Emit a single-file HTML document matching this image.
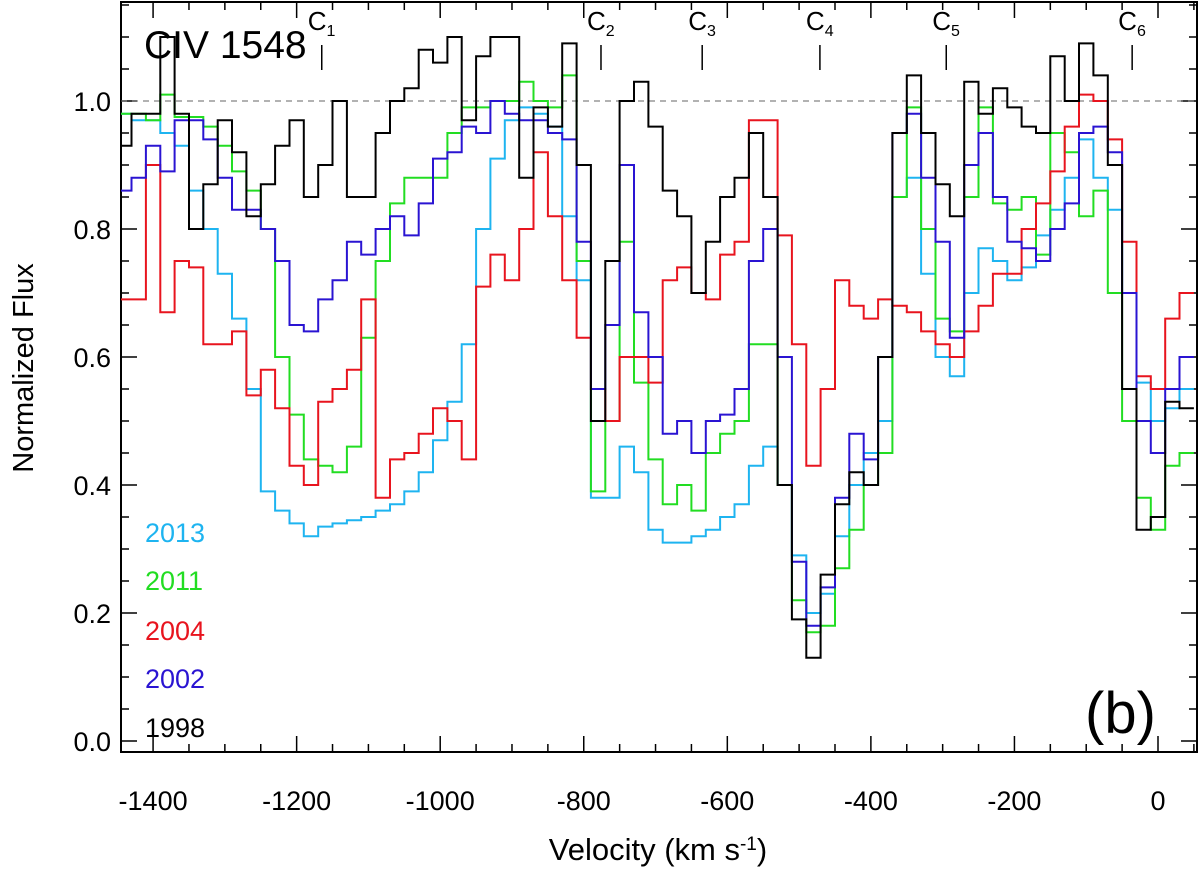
<!DOCTYPE html>
<html><head><meta charset="utf-8"><style>
html,body{margin:0;padding:0;background:#fff;}
svg{display:block;font-family:"Liberation Sans",Arial,sans-serif;}
</style></head><body>
<svg id="chart" width="1200" height="869" viewBox="0 0 1200 869" xmlns="http://www.w3.org/2000/svg">
<defs><clipPath id="pc"><rect x="121" y="2" width="1076" height="750"/></clipPath></defs>
<g id="axes"></g>
<line x1="121" x2="1197" y1="101" y2="101" stroke="#666" stroke-width="1" stroke-dasharray="6,5"/>
<g id="series" clip-path="url(#pc)"></g>
<g id="comps"></g>
<text x="144" y="58" font-size="39">CIV 1548</text>
<text x="1085" y="733" font-size="58">(b)</text>
<g font-size="27">
<text x="145" y="542" fill="#1EB4F0">2013</text>
<text x="145" y="590" fill="#22DD22">2011</text>
<text x="145" y="640" fill="#E8141E">2004</text>
<text x="145" y="688" fill="#2A14D2">2002</text>
<text x="145" y="737" fill="#000">1998</text>
</g>
<text transform="translate(33,368) rotate(-90)" text-anchor="middle" font-size="29">Normalized Flux</text>
<text x="658" y="860" text-anchor="middle" font-size="31">Velocity (km s<tspan baseline-shift="super" font-size="19">-1</tspan>)</text>
</svg>
<script>
const vStart = -1440, vStep = 20;
const flux2013 = [.98,.97,.97,.95,.93,.86,.80,.73,.66,.55,.39,.36,.34,.32,.335,.34,.345,.35,.36,.37,.39,.42,.47,.53,.62,.80,.91,.97,.99,.98,.96,.82,.72,.38,.38,.46,.42,.33,.31,.31,.32,.33,.35,.37,.43,.46,.40,.29,.20,.23,.32,.40,.45,.50,.85,.88,.73,.60,.57,.70,.77,.75,.72,.74,.79,.83,.88,.94,.88,.83,.70,.56,.50,.52,.55];
const flux2011 = [.98,.98,.97,1.01,.975,.975,.96,.93,.89,.86,.80,.60,.51,.44,.43,.42,.46,.63,.75,.84,.88,.88,.88,.95,.99,.99,1.0,1.0,1.03,1.0,.99,1.04,.75,.39,.50,.78,.56,.44,.37,.40,.36,.45,.48,.50,.62,.62,.40,.22,.17,.18,.27,.33,.40,.45,.85,.99,.80,.66,.64,.85,.99,.84,.83,.85,.76,.95,.92,.82,.86,.70,.50,.38,.33,.43,.45];
const flux2004 = [.69,.69,.90,.67,.75,.74,.62,.62,.64,.54,.58,.52,.43,.40,.53,.55,.58,.69,.38,.44,.45,.48,.52,.50,.44,.71,.76,.72,.80,.92,.82,.72,.63,.55,.50,.60,.60,.56,.72,.74,.70,.69,.76,.78,.97,.97,.79,.62,.43,.55,.72,.68,.66,.69,.68,.67,.64,.62,.60,.64,.68,.73,.73,.80,.84,.89,.96,1.01,1.0,.94,.78,.57,.55,.66,.70];
const flux2002 = [.86,.88,.93,.89,.97,.97,.94,.88,.83,.83,.80,.75,.65,.64,.69,.72,.78,.76,.80,.82,.79,.84,.91,.92,.96,.95,1.0,.98,.97,.97,.95,.94,.78,.55,.65,.90,.67,.60,.48,.50,.45,.50,.51,.55,.75,.80,.60,.28,.18,.24,.38,.48,.44,.60,.95,.98,.88,.78,.63,.90,.95,.85,.78,.77,.75,.80,.84,.95,.96,.92,.70,.50,.45,.55,.60];
const flux1998 = [.93,.98,.98,1.10,.98,.80,.87,.97,.92,.82,.87,.93,.97,.85,.90,1.0,.85,.85,.95,1.0,1.02,1.08,1.06,1.10,.97,1.07,1.10,1.10,.88,.99,.96,1.09,.90,.50,.75,1.0,1.03,.96,.86,.82,.70,.78,.85,.88,.95,.85,.40,.19,.13,.26,.37,.42,.40,.60,.95,1.04,.95,.87,.82,1.03,.98,1.02,.99,.96,.95,1.07,1.0,1.09,1.04,.90,.55,.33,.35,.53,.52];
const xTicks = [-1400,-1200,-1000,-800,-600,-400,-200,0];
const yTicks = [0.0,0.2,0.4,0.6,0.8,1.0];
const compNames = ["1","2","3","4","5","6"];
const compVel = [-1165,-776,-635,-471,-295,-36];

const X = v => 1158 + (v) * 0.7178;
const Y = f => 741 - f * 640;
const NS = "http://www.w3.org/2000/svg";
function mk(tag, attrs, parent){const e=document.createElementNS(NS,tag);for(const k in attrs)e.setAttribute(k,attrs[k]);parent.appendChild(e);return e;}

const axes = document.getElementById('axes');
const frame = mk('rect',{x:121,y:2,width:1076,height:750,fill:'none',stroke:'#000','stroke-width':2},axes);


for(let v=-1450; v<=50; v+=50){
  const major = v%200===0;
  const L = major?16:8, x=X(v);
  if(x<121||x>1197) continue;
  const t1=mk('line',{x1:x,x2:x,y1:752,y2:752-L,stroke:'#000','stroke-width':1.5},axes);
  
  
  const t2=mk('line',{x1:x,x2:x,y1:2,y2:2+L,stroke:'#000','stroke-width':1.5},axes);
  
  
}
xTicks.forEach(v=>{
  const t=mk('text',{x:X(v),y:810,'text-anchor':'middle','font-size':27},axes);
  t.textContent = v;
  
  
});
for(let i=0;i<=23;i++){
  const f=i*0.05, y=Y(f);
  if(y<2) continue;
  const major = i%4===0, L=major?16:8;
  const t1=mk('line',{x1:121,x2:121+L,y1:y,y2:y,stroke:'#000','stroke-width':1.5},axes);
  
  
  const t2=mk('line',{x1:1197,x2:1197-L,y1:y,y2:y,stroke:'#000','stroke-width':1.5},axes);
  
  
}
yTicks.forEach(f=>{
  const t=mk('text',{x:111,y:Y(f)+10,'text-anchor':'end','font-size':27},axes);
  t.textContent = f.toFixed(1);
  
  
});
const sg = document.getElementById('series');
const seriesList = [[flux2013,'#1EB4F0','series-2013'],[flux2011,'#22DD22','series-2011'],[flux2004,'#E8141E','series-2004'],[flux2002,'#2A14D2','series-2002'],[flux1998,'#000000','series-1998']];
seriesList.forEach(([arr,col,name])=>{
  let d='';
  arr.forEach((f,i)=>{
    const v=vStart+i*vStep, x0=X(v-vStep/2), x1=X(v+vStep/2), y=Y(f);
    d += (i===0?'M':'L')+x0.toFixed(1)+','+y.toFixed(1)+'L'+x1.toFixed(1)+','+y.toFixed(1);
  });
  const p=mk('path',{d:d,fill:'none',stroke:col,'stroke-width':2},sg);
  
  
});
const cg=document.getElementById('comps');
compVel.forEach((v,i)=>{
  const x=X(v);
  const l=mk('line',{x1:x,x2:x,y1:45,y2:70,stroke:'#000','stroke-width':1.5},cg);
  
  
  const t=mk('text',{x:x-14,y:30,'font-size':26},cg);
  
  
  t.textContent='C';
  const s=mk('tspan',{dy:6,'font-size':16},t);
  s.textContent=compNames[i];
});
</script>
</body></html>
